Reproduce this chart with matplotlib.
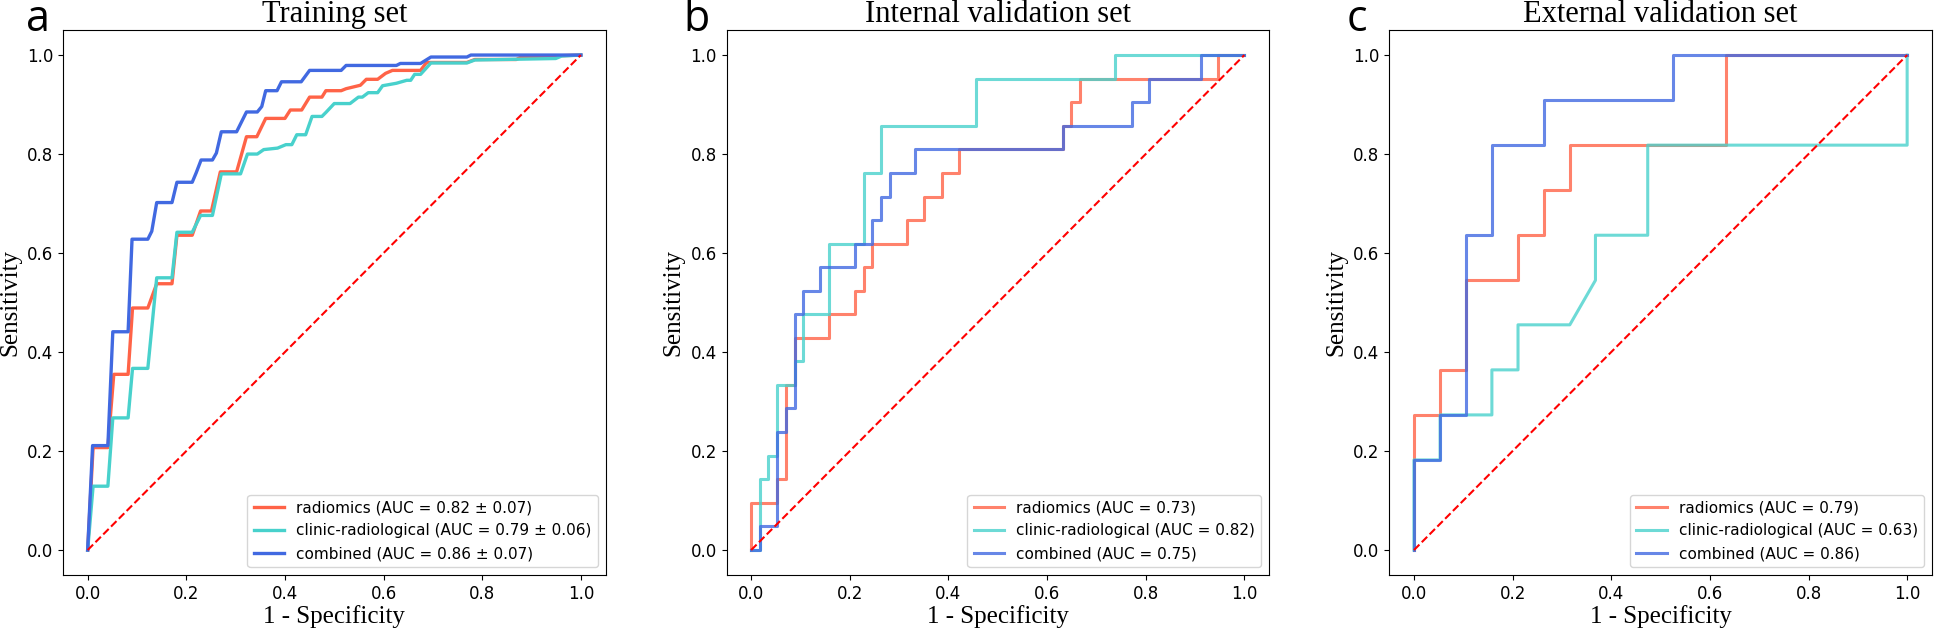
import matplotlib
matplotlib.use("Agg")
import matplotlib.pyplot as plt

# ---------------- data ----------------
titles = ["Training set", "Internal validation set", "External validation set"]
panel_letters = ["a", "b", "c"]
model_names = ["radiomics", "clinic-radiological", "combined"]
auc_a = ["0.82 \u00b1 0.07", "0.79 \u00b1 0.06", "0.86 \u00b1 0.07"]
auc_b = ["0.73", "0.82", "0.75"]
auc_c = ["0.79", "0.63", "0.86"]
ticks = [0.0, 0.2, 0.4, 0.6, 0.8, 1.0]

# Panel a (training, mean ROC)
rad_a_fpr = [0, 0.011, 0.041, 0.053, 0.082, 0.091, 0.122, 0.140, 0.171, 0.181, 0.212, 0.229, 0.251,
             0.269, 0.302, 0.322, 0.343, 0.361, 0.400, 0.411, 0.434, 0.450, 0.475, 0.483, 0.514, 0.524,
             0.553, 0.565, 0.588, 0.604, 0.618, 0.675, 0.687, 0.769, 0.785, 0.869, 0.879, 1.0]
rad_a_tpr = [0, 0.207, 0.207, 0.355, 0.355, 0.489, 0.489, 0.538, 0.538, 0.636, 0.636, 0.685, 0.685,
             0.764, 0.764, 0.835, 0.835, 0.872, 0.872, 0.889, 0.889, 0.915, 0.915, 0.928, 0.928, 0.932,
             0.939, 0.951, 0.951, 0.963, 0.969, 0.969, 0.985, 0.985, 0.991, 0.991, 0.996, 1.0]

cli_a_fpr = [0, 0.011, 0.041, 0.051, 0.082, 0.091, 0.122, 0.140, 0.171, 0.181, 0.212, 0.229, 0.253,
             0.271, 0.310, 0.324, 0.344, 0.357, 0.385, 0.402, 0.414, 0.424, 0.442, 0.455, 0.475, 0.483,
             0.500, 0.532, 0.549, 0.557, 0.569, 0.588, 0.598, 0.626, 0.647, 0.655, 0.663, 0.675, 0.696,
             0.769, 0.785, 0.949, 0.961, 1.0]
cli_a_tpr = [0, 0.129, 0.129, 0.267, 0.267, 0.367, 0.367, 0.550, 0.550, 0.642, 0.642, 0.676, 0.676,
             0.760, 0.760, 0.800, 0.800, 0.809, 0.812, 0.819, 0.819, 0.839, 0.839, 0.876, 0.876, 0.884,
             0.902, 0.902, 0.915, 0.915, 0.924, 0.924, 0.938, 0.943, 0.949, 0.949, 0.961, 0.961, 0.984,
             0.984, 0.990, 0.993, 0.998, 1.0]

com_a_fpr = [0, 0.010, 0.041, 0.051, 0.082, 0.090, 0.122, 0.130, 0.140, 0.171, 0.181, 0.212, 0.220,
             0.230, 0.253, 0.261, 0.271, 0.302, 0.322, 0.344, 0.353, 0.361, 0.384, 0.393, 0.433, 0.450,
             0.514, 0.524, 0.626, 0.634, 0.675, 0.696, 0.769, 0.777, 1.0]
com_a_tpr = [0, 0.211, 0.211, 0.441, 0.441, 0.628, 0.628, 0.644, 0.702, 0.702, 0.743, 0.743, 0.762,
             0.788, 0.788, 0.802, 0.845, 0.845, 0.885, 0.885, 0.896, 0.928, 0.928, 0.946, 0.946, 0.969,
             0.969, 0.979, 0.979, 0.983, 0.983, 0.996, 0.996, 1.0, 1.0]

# Panel b (internal validation)
rad_b_fpr = [0, 0, 0.053, 0.053, 0.070, 0.070, 0.088, 0.088, 0.158, 0.158, 0.211, 0.211, 0.228, 0.228,
             0.246, 0.246, 0.316, 0.316, 0.351, 0.351, 0.386, 0.386, 0.421, 0.421, 0.632, 0.632, 0.649,
             0.649, 0.667, 0.667, 0.947, 0.947, 1.0]
rad_b_tpr = [0, 0.095, 0.095, 0.143, 0.143, 0.333, 0.333, 0.429, 0.429, 0.476, 0.476, 0.524, 0.524,
             0.571, 0.571, 0.619, 0.619, 0.667, 0.667, 0.714, 0.714, 0.762, 0.762, 0.810, 0.810, 0.857,
             0.857, 0.905, 0.905, 0.952, 0.952, 1.0, 1.0]

cli_b_fpr = [0, 0.018, 0.018, 0.035, 0.035, 0.053, 0.053, 0.088, 0.088, 0.105, 0.105, 0.158, 0.158,
             0.228, 0.228, 0.263, 0.263, 0.456, 0.456, 0.737, 0.737, 1.0]
cli_b_tpr = [0, 0, 0.143, 0.143, 0.190, 0.190, 0.333, 0.333, 0.381, 0.381, 0.476, 0.476, 0.619,
             0.619, 0.762, 0.762, 0.857, 0.857, 0.952, 0.952, 1.0, 1.0]

com_b_fpr = [0, 0.018, 0.018, 0.053, 0.053, 0.070, 0.070, 0.088, 0.088, 0.105, 0.105, 0.140, 0.140,
             0.211, 0.211, 0.246, 0.246, 0.263, 0.263, 0.281, 0.281, 0.333, 0.333, 0.632, 0.632, 0.772,
             0.772, 0.807, 0.807, 0.912, 0.912, 1.0]
com_b_tpr = [0, 0, 0.048, 0.048, 0.238, 0.238, 0.286, 0.286, 0.476, 0.476, 0.524, 0.524, 0.571,
             0.571, 0.619, 0.619, 0.667, 0.667, 0.714, 0.714, 0.762, 0.762, 0.810, 0.810, 0.857, 0.857,
             0.905, 0.905, 0.952, 0.952, 1.0, 1.0]

# Panel c (external validation)
rad_c_fpr = [0, 0, 0.053, 0.053, 0.105, 0.105, 0.211, 0.211, 0.263, 0.263, 0.316, 0.316, 0.632, 0.632, 1.0]
rad_c_tpr = [0, 0.273, 0.273, 0.364, 0.364, 0.545, 0.545, 0.636, 0.636, 0.727, 0.727, 0.818, 0.818, 1.0, 1.0]

cli_c_fpr = [0, 0, 0.053, 0.053, 0.158, 0.158, 0.211, 0.211, 0.316, 0.368, 0.368, 0.474, 0.474, 1.0, 1.0]
cli_c_tpr = [0, 0.182, 0.182, 0.273, 0.273, 0.364, 0.364, 0.455, 0.455, 0.545, 0.636, 0.636, 0.818, 0.818, 1.0]

com_c_fpr = [0, 0, 0.053, 0.053, 0.105, 0.105, 0.158, 0.158, 0.263, 0.263, 0.526, 0.526, 1.0]
com_c_tpr = [0, 0.182, 0.182, 0.273, 0.273, 0.636, 0.636, 0.818, 0.818, 0.909, 0.909, 1.0, 1.0]

colors = ["#FF6347", "#48D1CC", "#4169E1"]

# ---------------- figure ----------------
fig = plt.figure(figsize=(19.6, 6.33), dpi=100)
W, H = 1960.0, 633.0
ax_w = 542.5 / W
ax_h = 544.5 / H
ax_b = (633 - 574.8) / H
lefts = [63.0 / W, 726.5 / W, 1389.3 / W]

panels = [
    ([rad_a_fpr, cli_a_fpr, com_a_fpr], [rad_a_tpr, cli_a_tpr, com_a_tpr], auc_a, 1.0, 2.4),
    ([rad_b_fpr, cli_b_fpr, com_b_fpr], [rad_b_tpr, cli_b_tpr, com_b_tpr], auc_b, 0.8, 2.2),
    ([rad_c_fpr, cli_c_fpr, com_c_fpr], [rad_c_tpr, cli_c_tpr, com_c_tpr], auc_c, 0.8, 2.2),
]

serif = ["Liberation Serif", "DejaVu Serif"]
letter_x = [26 / W, 683 / W, 1347 / W]

for i, (fprs, tprs, aucs, alpha, lw) in enumerate(panels):
    ax = fig.add_axes([lefts[i], ax_b, ax_w, ax_h])
    for j in range(3):
        ax.plot(fprs[j], tprs[j], color=colors[j], lw=lw, alpha=alpha,
                label=f"{model_names[j]} (AUC = {aucs[j]})")
    ax.plot([0, 1], [0, 1], "r--", lw=1.5)
    ax.set_xlim(-0.05, 1.05)
    ax.set_ylim(-0.05, 1.05)
    ax.set_xticks(ticks)
    ax.set_yticks(ticks)
    ax.tick_params(labelsize=12)
    ax.set_xlabel("1 - Specificity", fontsize=18, family=serif, labelpad=2)
    ax.set_ylabel("Sensitivity", fontsize=18, family=serif, labelpad=4)
    ax.set_title(titles[i], fontsize=22, family=serif, pad=6)
    ax.legend(loc="lower right", fontsize=11)
    fig.text(letter_x[i], (H - 31) / H, panel_letters[i], fontsize=31,
             family=["Open Sans", "DejaVu Sans"], va="baseline", ha="left")

fig.savefig("out.png", dpi=100)
